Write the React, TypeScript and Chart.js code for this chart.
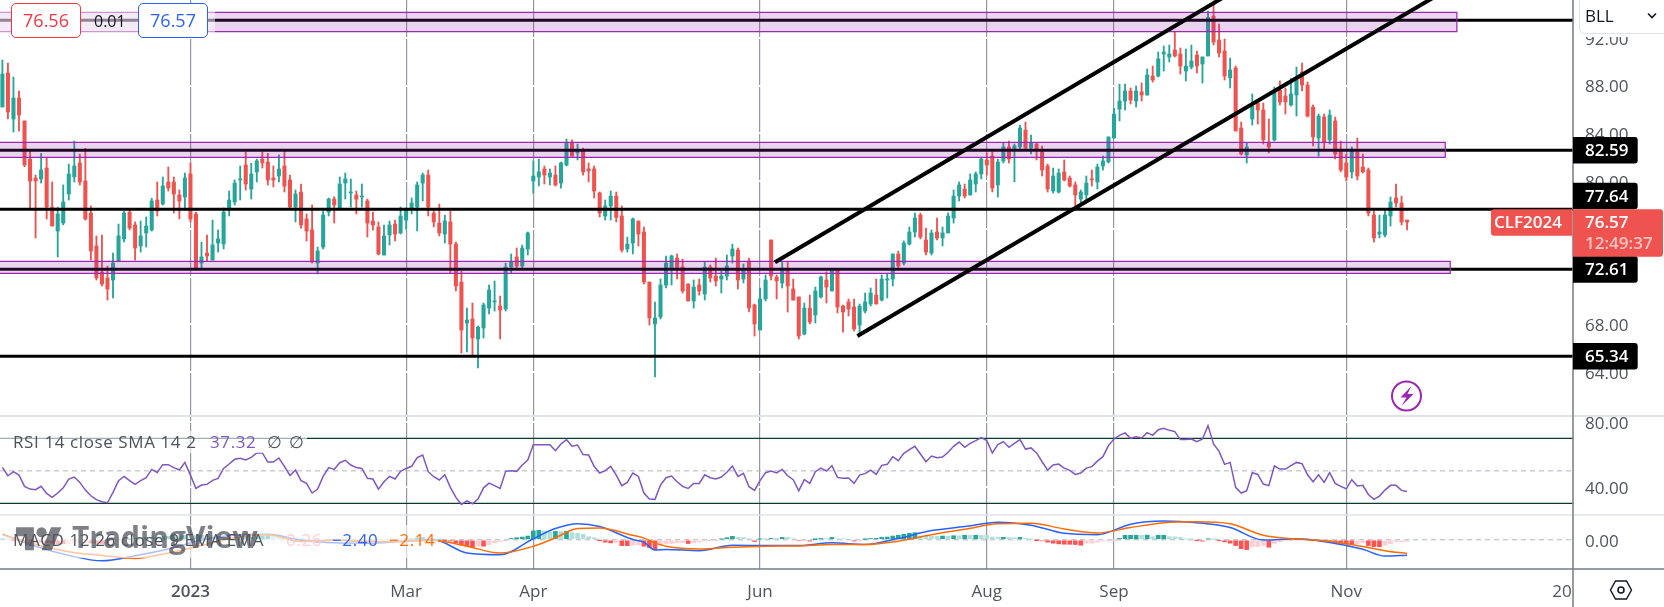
import React, { useEffect, useRef } from "react";
import { Chart, registerables } from "chart.js";

Chart.register(...registerables);

const FONT = '"Open Sans", sans-serif';
const TEXT = "#50535e";
const UP = "#26a69a";
const DOWN = "#ef5350";

// daily candles
const highs = [
  90.14,89.89,88.72,87.55,85.04,82.47,80.51,82.33,81.99,79.93,
  77.83,79.68,81.43,83.36,82.27,82.75,77.92,75.41,75.49,72.89,
  73.98,76.41,77.5,77.58,76.58,76.66,77,78.56,79.93,80.35,
  81.18,80.35,79.26,80.68,81.52,77.41,74.9,75.49,76.74,75.91,
  77.75,79.17,80.1,81.27,82.44,81.49,81.85,82.44,82.33,81.27,
  82.19,82.52,80.51,79.26,79.76,77.25,78,74.48,77.5,78.59,
  78.7,80.35,80.68,80.18,79.17,79.76,78.5,77.41,76.58,76.33,
  76.66,76.74,77.83,77.75,78.59,79.93,80.68,80.93,77.5,78.08,
  77.14,77.5,74.9,72.47,69.37,69.79,67.87,69.79,71.3,71.64,
  70.38,73.14,73.9,74.4,74.65,75.74,81.69,81.85,81.27,81.02,
  81.27,81.6,83.53,83.45,83.11,82.77,81.52,81.27,79.09,78.42,
  79.17,79.09,77.92,75.32,76.91,76.66,76.16,71.55,69.88,71.8,
  73.73,73.81,73.9,73.48,71.39,71.72,71.8,73.23,72.98,73.56,
  72.47,73.81,74.73,74.4,73.06,73.56,69.71,71.05,72.14,75.07,
  72.14,73.23,73.23,71.8,70.3,69.79,70.46,71.13,72.05,72.39,
  72.61,72.61,69.63,70.13,70.13,69.71,70.63,71.05,71.8,72.14,
  72.22,73.9,74.15,74.99,76.16,77.33,77.33,76.07,75.91,76.91,
  76.16,77.33,79.26,79.93,79.76,80.6,80.77,81.94,82.36,82.44,
  81.85,83.19,83.36,83.11,84.7,84.95,83.86,83.19,82.94,81.43,
  81.1,81.02,81.77,80.43,79.93,79.26,80.43,80.93,81.43,82.1,
  83.7,86.1,88.13,88.13,87.8,87.97,88.22,89.39,89.64,90.81,
  91.32,91.4,92.52,91.15,91.07,91.4,90.9,90.4,94.25,95.09,
  93.16,91.9,90.31,89.64,84.95,83.19,87.3,86.54,86.54,85.2,
  87.88,88.39,87.8,88.61,89.56,89.89,88.3,86.38,85.62,85.62,
  85.96,85.37,83.36,82.27,82.86,83.61,82.27,81.1,77.5,77.16,
  77.58,78.67,79.76,78.75,76.74,
];
const opens = [
  86.21,89.06,85.2,86.96,85.04,81.85,80.26,80.18,81.1,77.83,
  75.82,76.49,78.92,80.35,81.52,80.01,77.33,74.57,72.39,71.89,
  71.72,73.25,75.16,77.41,76.33,74.57,75.66,75.91,78.42,78.08,
  79.93,79.93,78.84,78.67,80.6,77.25,73.14,73.98,73.39,74.82,
  74.73,77.75,78.25,80.1,81.35,79.34,80.77,81.85,81.6,80.26,
  80.43,81.27,80.1,77.83,79.09,76.83,75.91,73.14,74.48,77.41,
  78.5,77.64,79.84,79.01,78.84,78.67,78.34,76.66,76.16,73.81,
  75.49,76.41,75.66,76.74,77.75,77.83,79.84,80.51,77.33,76.49,
  75.57,76.58,74.73,71.55,68.12,68.45,66.78,67.7,69.37,69.88,
  69.54,69.29,72.81,73.65,72.89,74.32,80.01,80.35,81.02,80.35,
  80.51,79.84,81.35,83.25,82.36,82.61,81.02,81.02,79.01,77.08,
  77.92,78.75,77.08,74.32,74.82,76.66,75.74,71.55,68.04,68.62,
  71.3,72.72,73.56,72.81,71.39,69.96,71.3,70.55,72.81,72.05,
  71.8,72.05,73.73,74.23,71.8,73.31,69.63,67.53,70.13,75.07,
  71.97,71.47,72.47,70.97,70.3,67.2,69.37,68.79,70.3,71.72,
  70.8,72.5,69.54,69.88,69.46,67.95,69.12,69.71,70.46,70.04,
  71.72,71.8,73.9,73.14,74.73,75.74,77.16,75.07,73.98,75.74,
  75.24,75.66,76.91,78.75,79.34,78.84,79.76,80.6,81.77,82.1,
  79.68,81.69,82.86,82.69,82.86,84.28,82.77,83.11,82.44,81.27,
  79.17,79.09,80.77,80.26,79.68,78.5,78.84,80.18,79.93,81.27,
  81.6,83.61,86.04,86.71,87.55,86.71,87.47,87.21,88.8,88.8,
  90.65,90.4,90.98,90.65,89.22,89.56,90.56,89.81,90.48,93.83,
  91.82,90.9,88.64,89.47,84.45,82.19,85.2,86.54,85.96,83.19,
  83.45,87.63,87.13,86.38,87.21,89.14,88.05,86.21,83.61,85.37,
  83.45,85.04,82.61,81.52,80.77,82.44,81.18,80.93,77.16,75.57,
  75.49,77.08,78.59,78.17,76.74,
];
const closes = [
  88.97,85.79,86.96,85.54,81.35,80.01,80.01,80.93,77.83,76.24,
  77.25,78.25,80.6,81.27,79.93,76.83,74.15,71.89,71.39,70.97,
  73.14,75.41,77.33,76.07,74.4,75.41,76.24,78.34,77.5,79.59,
  79.42,78.92,78.34,80.26,76.83,72.72,73.65,73.73,74.65,75.16,
  77.41,78.42,79.84,80.18,79.76,80.6,81.69,81.52,80.1,80.1,
  81.02,79.59,77.83,78.92,76.33,75.82,73.23,74.15,77.16,78.5,
  78,79.76,80.18,79.09,78.5,78.75,76.49,76.33,73.9,75.41,
  76.33,75.57,77.08,77.58,78.17,79.68,80.51,77.83,76.58,75.66,
  76.66,74.73,71.22,67.53,68.37,66.86,67.78,69.63,70.88,69.96,
  69.21,72.81,73.23,72.89,74.4,75.66,80.43,80.77,80.51,80.68,
  79.68,81.52,83.25,82.1,82.5,80.77,80.85,79.17,77.33,77.92,
  78.75,76.96,74.23,74.73,76.83,75.57,71.55,68.54,68.54,71.3,
  73.14,73.73,72.64,70.8,69.96,71.13,70.8,72.81,71.89,71.64,
  72.05,72.89,74.32,71.72,72.56,69.37,68.04,70.13,71.72,72.05,
  71.64,72.72,71.22,70.04,67.03,69.37,68.2,70.8,71.97,71.13,
  72.5,69.46,69.04,69.29,67.62,69.54,69.88,70.63,69.71,71.8,
  71.8,73.9,72.89,74.82,75.74,76.91,75.32,74.06,75.66,75.24,
  75.66,77.08,78.75,79.68,78.75,80.1,80.6,81.85,81.35,79.42,
  81.6,82.86,81.85,82.94,84.45,82.77,83.19,82.69,80.93,79.34,
  80.43,80.68,80.1,79.59,78.84,79.09,79.84,80.1,81.18,81.69,
  83.7,85.62,86.71,87.55,86.79,87.55,87.21,88.89,88.47,90.23,
  90.81,90.65,90.48,89.64,89.64,90.06,89.64,90.4,93.72,91.65,
  90.73,88.8,89.31,84.2,82.27,82.86,86.29,85.96,83.45,82.86,
  87.63,86.63,86.63,87.3,88.47,88.05,85.45,83.7,85.45,83.28,
  85.54,82.27,80.93,80.35,82.52,80.43,80.77,77.33,75.24,75.74,
  77.16,78.25,78.17,76.58,76.57,
];
const lows = [
  86.21,85.2,84.11,84.2,81.21,77.72,75.24,79.84,76.83,76.24,
  73.65,76.33,78.42,79.93,79.68,76.74,73.39,71.72,71.22,70.04,
  70.21,73.25,74.9,75.91,73.39,74.06,74.48,75.82,77.08,78,
  79.17,77.33,76.83,77.58,76.58,72.56,72.72,73.31,73.39,74.06,
  74.32,77.08,78,78.42,79.26,78.5,79.93,81.1,79.68,79.51,
  79.93,79.09,77.75,76.58,76.07,74.99,73.14,72.22,74.32,77.08,
  76.49,77.64,78.5,77.83,77.25,77.83,75.32,75.91,73.81,73.81,
  74.65,74.99,75.57,75.96,77.25,75.82,78.34,77.08,76.16,75.41,
  74.82,72.31,70.8,65.61,65.69,65.44,64.35,66.86,68.87,69.12,
  66.78,69.12,72.31,72.72,72.72,73.81,79,79.59,79.76,79.68,
  79.59,79.42,81.27,82.1,81.77,80.51,79.93,78.59,77,76.74,
  76.74,76.58,74.06,74.06,73.9,74.57,71.39,67.95,63.6,68.45,
  71.05,71.3,71.8,70.63,69.96,69.37,70.46,70.04,71.55,71.22,
  70.63,71.72,73.14,70.97,71.47,69.04,67.03,67.53,69.96,71.72,
  70.13,71.05,69.04,70.04,66.78,67.12,68.04,68.12,70.21,69.79,
  70.8,68.96,67.36,68.71,67.45,67.12,68.96,69.54,69.71,69.96,
  70.21,71.22,72.72,72.98,74.65,75.32,75.16,73.81,73.81,75.07,
  74.57,75.66,76.49,78.34,78.59,78.84,79.09,80.18,80.51,79.09,
  78.67,81.52,81.52,79.93,82.69,82.69,82.27,81.77,80.43,79.09,
  79,79,80.01,79.51,77.81,78,78.42,79.59,79.34,80.93,
  81.52,83.61,85.04,85.96,86.46,86.21,86.71,87.21,88.3,88.72,
  89.22,89.98,90.4,88.97,88.39,89.39,89.06,88.22,90.48,91.4,
  90.4,88.47,87.8,84.2,82.19,81.52,84.7,84.78,83.11,82.36,
  83.36,86.38,85.62,86.29,85.45,87.55,85.37,82.94,82.1,82.61,
  83.11,81.85,80.77,80.01,80.26,80.1,80.68,77.08,74.9,75.24,
  75.32,76.24,77.83,76.33,75.91,
];

const rsi = [
  52.2,47,49.5,47.4,40.5,38.8,38.4,40.5,36.2,33.7,
  36.4,39.6,45,46.2,42.9,38.2,34.7,32.3,31,30.4,
  36.8,44,46.6,44,41.7,44,45.8,50.9,49,53.8,
  53.8,52,50.5,55.2,47.4,39.2,41.3,41.7,44.2,45.4,
  51.5,54.2,57.1,57.7,56.7,58.3,61,61,55.4,55.4,
  57.9,52.8,47.2,50.5,44,42.3,36.4,38.8,46.6,52,
  50.9,55,56.5,53.6,52,51.5,45.4,45,38.8,43.3,
  46.6,45,49.7,51.5,52.8,58.1,59.7,49.5,46.4,44.4,
  47.6,39.9,33.7,29.4,31.6,29.8,32.7,39.6,42.5,40.9,
  39.2,49.7,50.1,49.7,53.6,56.7,66.1,66.1,66.1,66.1,
  62.4,66.5,69.2,65.1,65.9,60,59.7,52.8,48.7,50.1,
  52.8,47.4,40.9,42.9,48.7,46.6,36.4,32.7,32.5,41.3,
  45.8,46.8,43.3,40.5,39.2,42.3,42.3,47.6,45.8,45,
  46.2,49.1,53,46.6,48.5,40.3,38,44,48.9,49.9,
  48.7,50.9,47,44.6,37.8,44.6,42.3,49.5,51.7,49.9,
  53.2,46,45.4,45.6,42.3,47.4,48.3,50.5,47.8,53.4,
  54,58.7,56.3,60.8,63,65.1,60.4,55.6,59.1,58.1,
  58.5,61.4,65.1,67.7,64.5,66.9,68.6,70.4,68.6,61,
  66.1,68,64.5,66.9,69.2,63.4,64.1,61,55.6,50.5,
  53.6,54.2,51.7,50.3,47.8,48.7,51.7,52.6,56,58.7,
  65.5,69.6,71.8,73.3,70,71,70.2,73.5,71.8,75.3,
  76.2,74.9,74.1,69.2,69.2,69.6,67.9,69.6,77.8,66.5,
  62,54,55.2,39.9,36.4,37.8,48.9,47.8,41.9,40.9,
  53,51.1,51.1,53.2,55.2,54.4,47.6,43.3,47.6,42.9,
  48.9,42.3,40.5,39,44.6,40.7,41.1,35.5,32.5,34.5,
  38.2,41.1,41.1,38,37.32,
];

// MACD lines are smooth, so they are read at these bars only
const macdBars = [0,6,12,18,24,30,36,42,48,54,60,66,72,78,84,90,96,100,104,108,114,116,118,120,126,132,138,144,150,156,162,168,174,180,186,192,198,204,210,216,222,228,234,240,246,250,254];
const macdLine = [0.9,-1.01,-2.43,-3.28,-2.49,-1.43,-0.05,0.74,0.85,-0.05,-0.48,-0.53,-0.26,0,-2.06,-2.33,0.16,1.75,2.49,2.06,0.05,-0.37,-1.59,-1.53,-1.69,-0.85,-0.9,-0.9,-0.48,-0.74,0.21,1.43,2.06,2.75,2.28,1,0.79,2.43,2.91,2.65,1.9,-0.05,0.16,-0.42,-1.48,-2.54,-2.4];
const signalLine = [0.79,-0.74,-1.85,-2.43,-2.91,-2.06,-0.9,0.32,0.79,-0.26,-0.05,-0.32,-0.26,-0.11,-1.01,-2.06,-1.01,0.32,1.75,1.85,0.69,0.26,-0.48,-1,-1.43,-1.16,-1,-0.95,-0.74,-0.74,-0.21,0.79,1.64,2.49,2.59,1.69,1.06,1.9,2.65,2.8,2.49,0.69,0.11,-0.21,-1.06,-1.69,-2.14];
const macdHist = [
  0.1,0.05,-0.02,-0.1,-0.15,-0.2,-0.28,-0.35,-0.45,-0.55,
  -0.6,-0.62,-0.58,-0.52,-0.45,-0.42,-0.5,-0.55,-0.6,-0.5,
  -0.35,-0.15,-0.05,0.05,0.2,0.3,0.35,0.42,0.45,0.5,
  0.55,0.6,0.65,0.7,0.6,0.65,0.7,0.65,0.6,0.55,
  0.45,0.4,0.35,0.3,0.35,0.4,0.5,0.6,0.65,0.6,
  0.5,0.35,0.2,0.1,0.05,-0.1,-0.3,-0.45,-0.4,-0.3,
  -0.2,-0.15,-0.1,-0.1,-0.1,-0.15,-0.2,-0.3,-0.25,-0.2,
  -0.15,-0.1,-0.05,0.05,0.1,0.3,0.35,0.2,0.1,0.02,
  -0.05,-0.2,-0.48,-0.8,-1,-1.16,-1,-1,-0.74,-0.48,
  -0.26,-0.05,0.21,0.32,0.42,0.58,1.38,1.48,1.38,1.22,
  1.3,1.28,1.34,1.11,1,0.85,0.48,0.32,-0.05,-0.37,
  -0.48,-0.45,-0.9,-0.92,-0.85,-0.8,-1,-1.22,-1.53,-0.74,
  -0.58,-0.56,-0.48,-0.46,-0.58,-0.48,-0.37,-0.21,-0.05,-0.02,
  0.11,0.32,0.53,0.37,0.35,0.11,-0.26,0.11,0.05,0.21,
  0.2,0.37,0.36,0.11,-0.16,-0.05,-0.21,0.02,0.21,0.2,
  0.37,0.16,0.11,0,-0.21,-0.05,0.05,0.21,0.22,0.37,
  0.42,0.58,0.69,0.85,1,1.11,0.58,0.57,0.56,0.53,
  0.58,0.53,0.63,0.62,0.69,0.68,0.7,0.69,0.68,0.42,
  0.37,0.38,0.36,0.32,0.37,0.21,0.11,-0.02,-0.16,-0.37,
  -0.53,-0.63,-0.69,-0.7,-0.74,-0.85,-0.53,-0.52,-0.37,-0.21,
  -0.2,-0.02,0.21,0.69,0.7,0.71,0.7,0.72,0.48,0.69,
  0.7,0.48,0.45,0.37,0.11,0.05,-0.05,-0.21,0.16,0.05,
  -0.11,-0.32,-0.53,-0.9,-1.38,-1.53,-1.11,-1.06,-0.9,-1.16,
  -0.58,-0.32,-0.16,-0.05,0.05,0.03,0.02,-0.02,-0.05,-0.11,
  -0.21,-0.48,-0.58,-0.63,-0.74,-0.63,-0.48,-0.9,-1.06,-1.07,
  -0.85,-0.63,-0.32,-0.31,-0.26,
];

const tickBars = [34, 73, 96, 137, 178, 201, 243, 282];
const tickLabels = ["2023", "Mar", "Apr", "Jun", "Aug", "Sep", "Nov", "20"];
const priceTicks = [64, 68, 72, 76, 80, 84, 88, 92];
const hiddenPriceLabels = [72, 76]; // covered by tags in the original
const rsiTicks = [40, 80];
const macdTicks = [0];

// drawn levels and channels
const levels = [93.47, 82.59, 77.64, 72.61, 65.34];
const priceTags = [82.59, 77.64, 72.61, 65.34];
const lastPrice = 76.57;
const zoneTops = [94.14, 83.25, 73.28];
const zoneBottoms = [92.52, 81.99, 72.28];
const zoneEnds = [263, 260.9, 261.8];
const upperChannel = [{ x: 139.7, y: 73.2 }, { x: 234.6, y: 99.17 }];
const lowerChannel = [{ x: 154.6, y: 67.03 }, { x: 261.8, y: 96.2 }];

const X_MIN = -0.434;
const X_MAX = 284;

const lineProps = { type: "line", pointRadius: 0, tension: 0 };

const hline = (y: number, yAxisID: string, color: string, width: number, order: number, dash: number[] = []) => ({
  ...lineProps,
  data: [{ x: X_MIN, y }, { x: X_MAX, y }],
  yAxisID,
  borderColor: color,
  borderWidth: width,
  borderDash: dash,
  order,
});

function histColor(i: number) {
  const v = macdHist[i];
  const prev = i > 0 ? macdHist[i - 1] : 0;
  if (v >= 0) return v >= prev ? UP : "#b2dfdb";
  return v <= prev ? "#ff5252" : "#ffcdd2";
}

const paneChrome = {
  id: "paneChrome",
  afterDraw(chart: any) {
    const { ctx, chartArea, scales } = chart;
    const { width, height } = chart;
    ctx.save();
    // pane separators
    ctx.strokeStyle = "#e0e3eb";
    ctx.lineWidth = 2;
    ctx.beginPath();
    ctx.moveTo(0, scales.y.bottom);
    ctx.lineTo(width, scales.y.bottom);
    ctx.stroke();
    ctx.lineWidth = 1.5;
    ctx.beginPath();
    ctx.moveTo(0, scales.rsi.bottom);
    ctx.lineTo(width, scales.rsi.bottom);
    ctx.stroke();
    // axis frame
    ctx.strokeStyle = "#787b86";
    ctx.lineWidth = 1.5;
    ctx.beginPath();
    ctx.moveTo(chartArea.right, 0);
    ctx.lineTo(chartArea.right, height);
    ctx.moveTo(0, chartArea.bottom);
    ctx.lineTo(width, chartArea.bottom);
    ctx.stroke();

    const right = chartArea.right;
    const lastY = scales.y.getPixelForValue(lastPrice);
    const lastTop = lastY - 12.8;

    ctx.textBaseline = "middle";
    ctx.textAlign = "left";
    // price axis labels, a touch lower than the library's own baseline puts them
    ctx.fillStyle = TEXT;
    ctx.font = `17px ${FONT}`;
    [scales.y, scales.rsi, scales.macd].forEach((s: any) => {
      s.ticks.forEach((t: any) => {
        if (s === scales.y && hiddenPriceLabels.includes(t.value)) return;
        ctx.fillText(t.label, right + 12, s.getPixelForValue(t.value) + 2);
      });
    });
    // black level tags, pushed up when they run into the last price tag
    priceTags.forEach((p) => {
      let cy = scales.y.getPixelForValue(p);
      if (cy + 13.5 > lastTop && cy < lastTop + 47) cy = lastTop - 13.3;
      ctx.fillStyle = "#000";
      ctx.beginPath();
      ctx.roundRect(right, cy - 13.3, 64.7, 26.6, [0, 3, 3, 0]);
      ctx.fill();
      ctx.fillStyle = "#fff";
      ctx.font = `600 17px ${FONT}`;
      ctx.fillText(p.toFixed(2), right + 12, cy + 1);
    });
    // last price tag with symbol and countdown
    ctx.fillStyle = DOWN;
    ctx.beginPath();
    ctx.roundRect(right, lastTop, 90, 47.4, [0, 3, 3, 0]);
    ctx.fill();
    ctx.beginPath();
    ctx.roundRect(right - 82, lastTop, 81, 26.4, [3, 0, 0, 3]);
    ctx.fill();
    ctx.fillStyle = "#fff";
    ctx.font = `600 17px ${FONT}`;
    ctx.fillText(lastPrice.toFixed(2), right + 12, lastY + 1);
    ctx.fillText("CLF2024", right - 79, lastY + 1);
    ctx.fillStyle = "rgba(255,255,255,0.65)";
    ctx.fillText("12:49:37", right + 12, lastY + 22);
    ctx.restore();
  },
};

const abs = (left: number, top: number, extra: React.CSSProperties = {}): React.CSSProperties => ({
  position: "absolute",
  left,
  top,
  fontFamily: FONT,
  whiteSpace: "nowrap",
  lineHeight: 1,
  ...extra,
});

function App() {
  const canvasRef = useRef<HTMLCanvasElement>(null);

  useEffect(() => {
    if (!canvasRef.current) return;
    const ctx = canvasRef.current.getContext("2d");
    if (!ctx) return;

    const upDown = (i: number) => (closes[i] >= opens[i] ? UP : DOWN);
    // no label overhang, the panes fill the canvas edge to edge
    const noPadding = (s: any) => {
      s.paddingTop = 0;
      s.paddingBottom = 0;
      s.paddingLeft = 0;
      s.paddingRight = 0;
    };
    const fit = (s: any) => {
      s.width = 91;
      noPadding(s);
    };
    const axisTicks = {
      display: false,
      autoSkip: false,
      callback: (v: any) => Number(v).toFixed(2),
    };
    const yGrid = { color: "#ffffff", lineWidth: 2, drawTicks: false, z: -1 };

    const chart = new Chart(ctx, {
      data: {
        datasets: [
          // candles
          {
            type: "bar",
            data: highs.map((h, i) => ({ x: i, y: [lows[i], h] })),
            backgroundColor: highs.map((_, i) => upDown(i)),
            barThickness: 1.2,
            grouped: false,
            yAxisID: "y",
            order: 20,
          },
          {
            type: "bar",
            data: opens.map((o, i) => ({ x: i, y: [o, closes[i]] })),
            backgroundColor: opens.map((_, i) => upDown(i)),
            barThickness: 3.4,
            grouped: false,
            minBarLength: 1,
            yAxisID: "y",
            order: 19,
          },
          // levels sit under the translucent zones
          ...levels.map((y) => hline(y, "y", "#000000", 3, 18)),
          ...zoneTops.map((top, z) => ({
            ...lineProps,
            data: [
              { x: -2, y: top },
              { x: zoneEnds[z], y: top },
              { x: zoneEnds[z], y: zoneBottoms[z] },
              { x: -2, y: zoneBottoms[z] },
              { x: -2, y: top },
            ],
            yAxisID: "y",
            borderColor: "#9c27b0",
            borderWidth: 1.2,
            backgroundColor: "rgba(156,39,176,0.2)",
            fill: "shape",
            order: 17,
          })),
          ...[upperChannel, lowerChannel].map((data) => ({
            ...lineProps,
            data,
            yAxisID: "y",
            borderColor: "#000000",
            borderWidth: 4,
            order: 16,
          })),
          // RSI pane
          hline(70, "rsi", "#0d3b2e", 1.2, 15),
          hline(30, "rsi", "#0d3b2e", 1.2, 15),
          hline(50, "rsi", "#b2b5be", 1, 15, [5, 4]),
          {
            ...lineProps,
            data: rsi.map((y, x) => ({ x, y })),
            yAxisID: "rsi",
            borderColor: "#7e57c2",
            borderWidth: 1.5,
            order: 14,
          },
          // MACD pane
          hline(0, "macd", "#b2b5be", 1, 13, [5, 4]),
          {
            type: "bar",
            data: macdHist.map((y, x) => ({ x, y })),
            backgroundColor: macdHist.map((_, i) => histColor(i)),
            barThickness: 4,
            grouped: false,
            yAxisID: "macd",
            order: 12,
          },
          {
            ...lineProps,
            data: macdBars.map((x, i) => ({ x, y: macdLine[i] })),
            yAxisID: "macd",
            borderColor: "#2962ff",
            borderWidth: 1.5,
            cubicInterpolationMode: "monotone",
            order: 11,
          },
          {
            ...lineProps,
            data: macdBars.map((x, i) => ({ x, y: signalLine[i] })),
            yAxisID: "macd",
            borderColor: "#ff6d00",
            borderWidth: 1.5,
            cubicInterpolationMode: "monotone",
            order: 10,
          },
        ],
      } as any,
      options: {
        responsive: false,
        animation: false,
        devicePixelRatio: 1,
        layout: { padding: 0 },
        plugins: { legend: { display: false }, tooltip: { enabled: false } },
        scales: {
          x: {
            type: "linear",
            min: X_MIN,
            max: X_MAX,
            offset: false,
            position: "bottom",
            border: { display: false },
            grid: {
              z: -2,
              offset: false,
              drawTicks: false,
              lineWidth: 1.2,
              color: (c: any) => (c.tick && c.tick.value === 282 ? "rgba(0,0,0,0)" : "#9598a1"),
            },
            afterBuildTicks: (s: any) => {
              s.ticks = tickBars.map((value) => ({ value }));
            },
            afterFit: (s: any) => {
              s.height = 38;
              noPadding(s);
            },
            ticks: {
              color: TEXT,
              padding: 13,
              maxRotation: 0,
              autoSkip: false,
              font: (c: any) => ({
                family: FONT,
                size: 17,
                weight: c.tick && c.tick.value === 34 ? 600 : 400,
              }),
              callback: (v: any) => tickLabels[tickBars.indexOf(v)],
            },
          },
          y: {
            type: "linear",
            position: "right",
            stack: "panes",
            stackWeight: 416,
            min: 60.33,
            max: 95.17,
            border: { display: false },
            grid: yGrid,
            afterBuildTicks: (s: any) => {
              s.ticks = priceTicks.map((value) => ({ value }));
            },
            afterFit: fit,
            ticks: axisTicks,
          },
          rsi: {
            type: "linear",
            position: "right",
            stack: "panes",
            stackWeight: 99,
            min: 22.9,
            max: 83.7,
            border: { display: false },
            grid: yGrid,
            afterBuildTicks: (s: any) => {
              s.ticks = rsiTicks.map((value) => ({ value }));
            },
            afterFit: fit,
            ticks: axisTicks,
          },
          macd: {
            type: "linear",
            position: "right",
            stack: "panes",
            stackWeight: 54,
            min: -4.55,
            max: 3.86,
            border: { display: false },
            grid: { ...yGrid, color: "rgba(0,0,0,0)" },
            afterBuildTicks: (s: any) => {
              s.ticks = macdTicks.map((value) => ({ value }));
            },
            afterFit: fit,
            ticks: axisTicks,
          },
        },
      } as any,
      plugins: [paneChrome],
    });

    return () => {
      chart.destroy();
    };
  }, []);

  const legendText = { fontSize: 17, color: TEXT, letterSpacing: 0.6 };

  return (
    <div style={{ position: "fixed", left: 0, top: 0, width: 1664, height: 607, overflow: "hidden", background: "#fff" }}>
      <canvas ref={canvasRef} width={1664} height={607} style={{ display: "block", width: 1664, height: 607 }} />

      {/* buy / sell widget */}
      <div style={abs(0, 3, { width: 215, height: 36, background: "rgba(255,255,255,0.5)" })} />
      <div style={abs(11, 3, { width: 70, height: 35, boxSizing: "border-box", border: "1px solid #f23645", borderRadius: 5, background: "#fff", color: "#f23645", fontSize: 18, textAlign: "center", lineHeight: "33px" })}>76.56</div>
      <div style={abs(94, 13, { fontSize: 16, color: "#131722" })}>0.01</div>
      <div style={abs(138, 3, { width: 70, height: 35, boxSizing: "border-box", border: "1px solid #2962ff", borderRadius: 5, background: "#fff", color: "#2962ff", fontSize: 18, textAlign: "center", lineHeight: "33px" })}>76.57</div>

      {/* indicator dropdown */}
      <div style={abs(1579, -6, { width: 100, height: 40, boxSizing: "border-box", border: "1px solid #e0e3eb", borderRadius: 5, background: "#fff", boxShadow: "0 3px 0 #fff" })} />
      <div style={abs(1585, 7, { fontSize: 17, color: "#131722" })}>BLL</div>
      <svg style={{ position: "absolute", left: 1647, top: 12 }} width="10" height="8" viewBox="0 0 10 8">
        <path d="M1 1.5 L5 5.5 L9 1.5" fill="none" stroke="#131722" strokeWidth="1.6" />
      </svg>

      {/* RSI legend */}
      <div style={abs(0, 431, { width: 307, height: 22, background: "rgba(255,255,255,0.6)" })} />
      <div style={abs(13, 433, legendText)}>RSI 14 close SMA 14 2</div>
      <div style={abs(210, 433, { ...legendText, color: "#7e57c2" })}>37.32</div>
      <div style={abs(267, 433, legendText)}>∅</div>
      <div style={abs(289, 433, legendText)}>∅</div>

      {/* MACD legend over the watermark */}
      <div style={abs(0, 525, { width: 438, height: 33, background: "rgba(255,255,255,0.6)" })} />
      <svg style={{ position: "absolute", left: 16, top: 522, opacity: 0.55 }} width="46" height="36" viewBox="0 0 36 28">
        <path d="M14 22H7V11H0V4h14v18zM28 22h-8l7.5-18h8L28 22z" fill="#131722" />
        <circle cx="20" cy="8" r="4" fill="#131722" />
      </svg>
      <div style={abs(72, 522, { fontSize: 30, fontWeight: 700, color: "rgba(19,23,34,0.55)" })}>TradingView</div>
      <div style={abs(13, 531, legendText)}>MACD 12 26 close 9 EMA EMA</div>
      <div style={abs(286, 531, { ...legendText, color: "#ffcdd2" })}>0.26</div>
      <div style={abs(332, 531, { ...legendText, color: "#2962ff" })}>−2.40</div>
      <div style={abs(389, 531, { ...legendText, color: "#ff6d00" })}>−2.14</div>

      {/* alert icon */}
      <svg style={{ position: "absolute", left: 1390, top: 380 }} width="33" height="33" viewBox="0 0 33 33">
        <circle cx="16.5" cy="16" r="14.5" fill="#fff" stroke="#9c27b0" strokeWidth="2" />
        <path d="M21.5 6 L10.5 17.5 H16.5 L11.5 26 L23.5 14 H17.5 Z" fill="#9c27b0" />
      </svg>

      {/* settings icon */}
      <svg style={{ position: "absolute", left: 1609, top: 578 }} width="24" height="24" viewBox="0 0 24 24">
        <path d="M6.5 3 H17.5 L22.5 12 L17.5 21 H6.5 L1.5 12 Z" fill="none" stroke="#131722" strokeWidth="1.4" />
        <circle cx="12" cy="12" r="3" fill="none" stroke="#131722" strokeWidth="1.6" />
      </svg>
    </div>
  );
}

export default App;
